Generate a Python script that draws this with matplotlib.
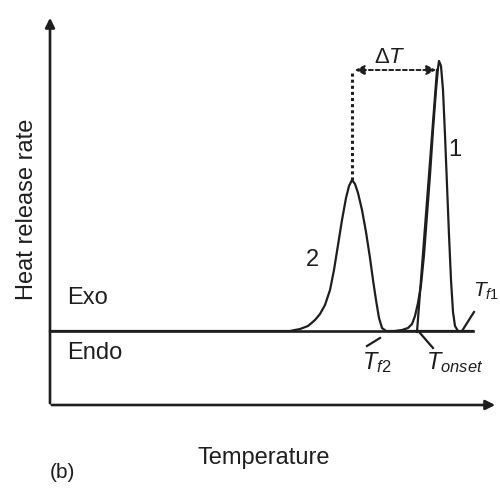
import matplotlib
matplotlib.use('Agg')
import matplotlib.pyplot as plt

plt.rcParams['font.family'] = ['Liberation Sans', 'DejaVu Sans']
plt.rcParams['mathtext.fontset'] = 'custom'
plt.rcParams['mathtext.it'] = 'Liberation Sans:italic'
plt.rcParams['mathtext.rm'] = 'Liberation Sans'

# curve 2 (lower, wider peak) - temperature / heat release rate
temp_2 = [0, 230, 240, 250, 258, 265, 270, 275, 280, 284, 288, 292, 296, 299, 302,
          305, 308, 312, 316, 320, 323, 326, 329, 332, 336, 423]
heat_2 = [0, 0, 0, 2, 5, 11, 17, 26, 41, 61, 86, 111, 133, 145, 151,
          147, 138, 121, 99, 73, 51, 31, 13, 3, 0, 0]

# curve 1 (sharp, tall peak)
temp_1 = [345, 352, 358, 362, 365, 368, 371, 374, 377, 380, 383, 386, 388, 389,
          391, 393, 395, 397, 399, 401, 403, 405, 408]
heat_1 = [0, 1, 3, 7, 15, 28, 46, 76, 116, 156, 201, 241, 263, 270,
          265, 241, 196, 146, 96, 51, 19, 5, 0]

# tangent for onset temperature
tangent_t = [367, 387]
tangent_h = [-1, 261]

peak_2 = (302, 151)
peak_1 = (389, 261)

ink = '#1e1e1e'
line_kw = dict(color=ink, lw=1.6, solid_joinstyle='round')

fig = plt.figure(figsize=(5, 4.91), dpi=100)
ax = fig.add_axes([0, 0, 1, 1])
ax.set_xlim(-50, 450)
ax.set_ylim(-160, 331)
ax.axis('off')

# axes arrows
ax.annotate('', xy=(0, 316), xytext=(0, -75),
            arrowprops=dict(arrowstyle='-|>', color=ink, lw=1.9, mutation_scale=14))
ax.annotate('', xy=(448, -74), xytext=(-1, -74),
            arrowprops=dict(arrowstyle='-|>', color=ink, lw=1.9, mutation_scale=14))

# baseline
ax.plot([0, 423], [0, 0], color=ink, lw=1.9)

ax.plot(temp_2, heat_2, **line_kw)
ax.plot(temp_1, heat_1, **line_kw)
ax.plot(tangent_t, tangent_h, **line_kw)

# delta T construction
ax.plot([peak_2[0], peak_2[0]], [peak_2[1], peak_1[1]], color=ink, lw=2.2, ls=(0, (1, 1)))
ax.annotate('', xy=(peak_2[0], peak_1[1]), xytext=(peak_1[0], peak_1[1]),
            arrowprops=dict(arrowstyle='<|-|>', color=ink, lw=1.4, ls=(0, (2, 1.5)),
                            mutation_scale=14))
ax.text(340, 274, r'$\Delta T$', fontsize=16, ha='center', va='center', color=ink)

# leader lines
ax.plot([317, 330], [-15, -7], **line_kw)
ax.plot([370, 383], [-2, -17], **line_kw)
ax.plot([412, 424], [0, 19], **line_kw)

txt = dict(color=ink, fontsize=17)
ax.text(327, -32, r'$T_{f2}$', ha='center', va='center', **txt)
ax.text(405, -32, r'$T_{onset}$', ha='center', va='center', **txt)
ax.text(423, 40, r'$T_{f1}$', ha='left', va='center', color=ink, fontsize=15)
ax.text(262, 71, '2', ha='center', va='center', **txt)
ax.text(405, 181, '1', ha='center', va='center', **txt)

ax.text(17, 33, 'Exo', ha='left', va='center', **txt)
ax.text(17, -22, 'Endo', ha='left', va='center', **txt)
ax.text(-23, 122, 'Heat release rate', rotation=90, ha='center', va='center', **txt)
ax.text(214, -127, 'Temperature', ha='center', va='center', **txt)
ax.text(0, -142, '(b)', ha='left', va='center', color=ink, fontsize=15)

fig.savefig('out.png', dpi=100)
